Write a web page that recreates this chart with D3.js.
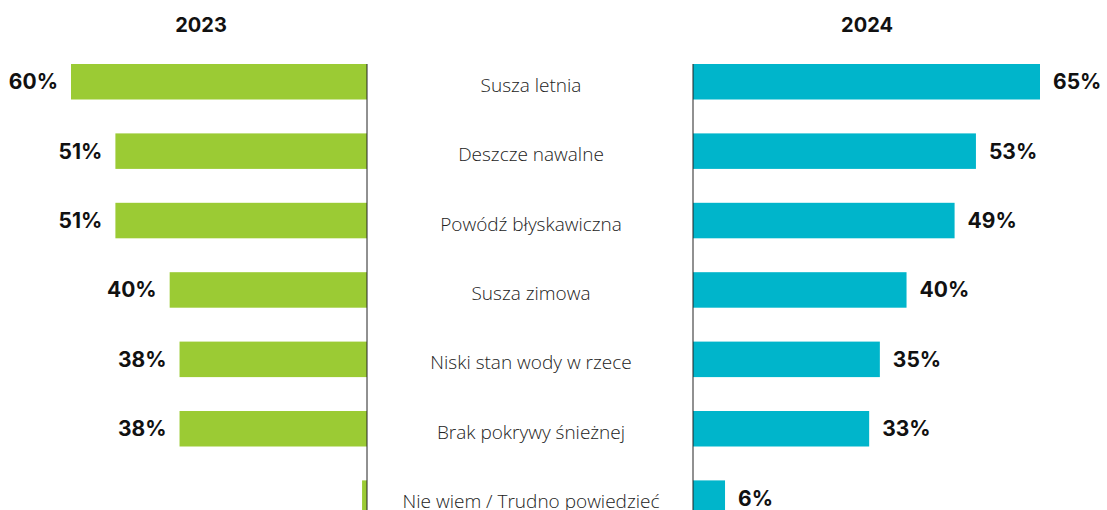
<!DOCTYPE html>
<html>
<head>
<meta charset="utf-8">
<script src="https://cdn.jsdelivr.net/npm/d3@7"></script>
<style>
  html, body { margin: 0; padding: 0; background: #fff; overflow: hidden; }
  .cat { font-family: "Open Sans", sans-serif; font-weight: 300; font-size: 19px; fill: #222; }
  .val { font-family: "Inter", "Liberation Sans", sans-serif; font-weight: 700; font-size: 21px; fill: #111; }
  .year { font-family: "Inter", "Liberation Sans", sans-serif; font-weight: 700; font-size: 20px; fill: #111; }
</style>
</head>
<body>
<div id="chart"></div>
<script>
(function () {
  "use strict";

  // categories (top to bottom) and the two survey years
  const CATEGORIES = [
    "Susza letnia",
    "Deszcze nawalne",
    "Powódź błyskawiczna",
    "Susza zimowa",
    "Niski stan wody w rzece",
    "Brak pokrywy śnieżnej",
    "Nie wiem / Trudno powiedzieć"
  ];
  const YEARS = ["2023", "2024"];
  const VALUES_2023 = [60, 51, 51, 40, 38, 38, 1];
  const VALUES_2024 = [65, 53, 49, 40, 35, 33, 6];

  const width = 1107;
  const height = 510;

  // layout
  const leftZero = 367;
  const leftMax = 296;     // px length of the biggest 2023 bar
  const rightZero = 693;
  const rightMax = 347;    // px length of the biggest 2024 bar
  const catX = 531;
  const top = 64;
  const step = 69.4;
  const barH = 35.5;
  const labelGap = 13;

  const svg = d3.select("#chart")
    .append("svg")
    .attr("width", width)
    .attr("height", height);

  const pad = 1 - barH / step;
  const y = d3.scaleBand()
    .domain(CATEGORIES)
    .range([top, top + step * (CATEGORIES.length - pad)])
    .paddingInner(pad)
    .paddingOuter(0);

  const xLeft = d3.scaleLinear()
    .domain([0, d3.max(VALUES_2023)])
    .range([0, leftMax]);
  const xRight = d3.scaleLinear()
    .domain([0, d3.max(VALUES_2024)])
    .range([0, rightMax]);

  const rows2023 = CATEGORIES.map((c, i) => ({ cat: c, v: VALUES_2023[i] }));
  const rows2024 = CATEGORIES.map((c, i) => ({ cat: c, v: VALUES_2024[i] }));

  // year titles
  svg.append("text")
    .attr("class", "year")
    .attr("x", 201)
    .attr("y", 32)
    .attr("text-anchor", "middle")
    .text(YEARS[0]);
  svg.append("text")
    .attr("class", "year")
    .attr("x", 867)
    .attr("y", 32)
    .attr("text-anchor", "middle")
    .text(YEARS[1]);

  // 2023 bars grow to the left
  svg.append("g").selectAll("rect")
    .data(rows2023)
    .join("rect")
    .attr("x", (d) => leftZero - xLeft(d.v))
    .attr("y", (d) => y(d.cat))
    .attr("width", (d) => xLeft(d.v))
    .attr("height", y.bandwidth())
    .attr("fill", "#9bcb34");

  // tiny values get no label (as in the source)
  svg.append("g").selectAll("text")
    .data(rows2023.filter((d) => d.v >= 2))
    .join("text")
    .attr("class", "val")
    .attr("x", (d) => leftZero - xLeft(d.v) - labelGap)
    .attr("y", (d) => y(d.cat) + y.bandwidth() / 2 + 7.5)
    .attr("text-anchor", "end")
    .text((d) => d.v + "%");

  // 2024 bars grow to the right
  svg.append("g").selectAll("rect")
    .data(rows2024)
    .join("rect")
    .attr("x", rightZero)
    .attr("y", (d) => y(d.cat))
    .attr("width", (d) => xRight(d.v))
    .attr("height", y.bandwidth())
    .attr("fill", "#00b5cb");

  svg.append("g").selectAll("text")
    .data(rows2024)
    .join("text")
    .attr("class", "val")
    .attr("x", (d) => rightZero + xRight(d.v) + labelGap)
    .attr("y", (d) => y(d.cat) + y.bandwidth() / 2 + 7.5)
    .attr("text-anchor", "start")
    .text((d) => d.v + "%");

  // zero lines
  [leftZero, rightZero].forEach((x) => {
    svg.append("line")
      .attr("x1", x).attr("x2", x)
      .attr("y1", top).attr("y2", height)
      .attr("stroke", "#222")
      .attr("stroke-width", 1);
  });

  // category labels in the middle
  svg.append("g").selectAll("text")
    .data(CATEGORIES)
    .join("text")
    .attr("class", "cat")
    .attr("x", catX)
    .attr("y", (d) => y(d) + y.bandwidth() / 2 + 10)
    .attr("text-anchor", "middle")
    .text((d) => d);
})();
</script>
</body>
</html>
